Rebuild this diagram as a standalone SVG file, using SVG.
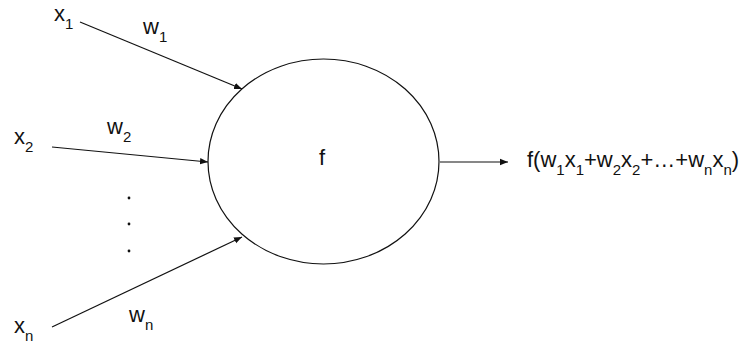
<svg xmlns="http://www.w3.org/2000/svg" width="746" height="347" viewBox="0 0 746 347">
<style>
.t{font-family:"Liberation Sans",Arial,sans-serif;font-size:22px;fill:#111}
.s{font-size:15px}
.c{stroke:#111;stroke-width:1.2;fill:none}
</style>
<defs>
<marker id="ah" viewBox="0 0 10 10" refX="10" refY="5" markerWidth="8" markerHeight="8" markerUnits="userSpaceOnUse" orient="auto">
<path d="M0,1 L10,5 L0,9 Z" fill="#111"/>
</marker>
</defs>
<rect width="746" height="347" fill="#fff"/>
<g id="neuron">
<ellipse cx="323.5" cy="161.5" rx="115.5" ry="102.5" fill="#fff" stroke="#111" stroke-width="1.2"/>
<text class="t" x="322" y="165" text-anchor="middle">f</text>
</g>
<g id="x1"><text class="t" x="54" y="21">x<tspan class="s" dy="8">1</tspan></text></g>
<g id="x2"><text class="t" x="14" y="144">x<tspan class="s" dy="8">2</tspan></text></g>
<g id="xn"><text class="t" x="14" y="333">x<tspan class="s" dy="8">n</tspan></text></g>
<g id="dots">
<circle cx="129" cy="198" r="1.4" fill="#111"/>
<circle cx="129" cy="224" r="1.4" fill="#111"/>
<circle cx="129" cy="251" r="1.4" fill="#111"/>
</g>
<g id="output"><text class="t" x="527" y="167">f(w<tspan class="s" dy="8">1</tspan><tspan dy="-8">x</tspan><tspan class="s" dy="8">1</tspan><tspan dy="-8">+w</tspan><tspan class="s" dy="8">2</tspan><tspan dy="-8">x</tspan><tspan class="s" dy="8">2</tspan><tspan dy="-8">+…+w</tspan><tspan class="s" dy="8">n</tspan><tspan dy="-8">x</tspan><tspan class="s" dy="8">n</tspan><tspan dy="-8">)</tspan></text></g>
<g id="connectors">
<line class="c" x1="80" y1="22" x2="242" y2="89" marker-end="url(#ah)"/>
<line class="c" x1="52" y1="147" x2="208" y2="162" marker-end="url(#ah)"/>
<line class="c" x1="52" y1="327" x2="242" y2="237" marker-end="url(#ah)"/>
<line class="c" x1="440" y1="162" x2="508" y2="162" marker-end="url(#ah)"/>
<text class="t" x="143" y="34">w<tspan class="s" dy="8">1</tspan></text>
<text class="t" x="107" y="134">w<tspan class="s" dy="8">2</tspan></text>
<text class="t" x="129" y="322">w<tspan class="s" dy="8">n</tspan></text>
</g>
</svg>
